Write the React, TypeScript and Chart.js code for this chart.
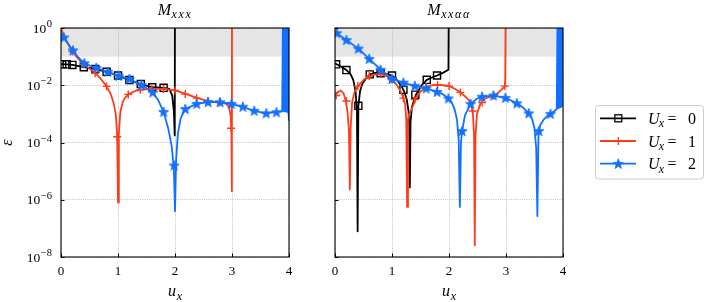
import React, { useEffect, useRef } from 'react';
import { Chart, registerables } from 'chart.js';

Chart.register(...registerables);

const W = 706;
const H = 302;
const FONT = '"Liberation Serif", "DejaVu Serif", serif';

const X_TICKS = [0, 1, 2, 3, 4];
const Y_TICK_EXPONENTS = [0, -2, -4, -6, -8];
const SHADE_LOW = 0.1;
const SHADE_HIGH = 1;
const SERIES_VALUES = ['0', '1', '2'];
const PANEL_SUBSCRIPTS = ['xxx', 'xxαα'];
const COLORS = ['#000000', '#ff3c1a', '#1170ff'];

// ---------- left panel (M_xxx): u_x and log10(ε) ----------
const leftU0LineU = [0, 0.1, 0.2, 0.4, 0.6, 0.8, 1.0, 1.2, 1.4, 1.6, 1.8, 1.9, 1.95, 1.98, 1.995, 2.0];
const leftU0LineLog = [-1.26, -1.27, -1.29, -1.37, -1.43, -1.53, -1.66, -1.82, -1.96, -2.07, -2.09, -2.13, -2.35, -2.9, -3.75, 2];
const leftU0MarkU = [0.02, 0.1, 0.2, 0.4, 0.6, 0.8, 1.0, 1.2, 1.4, 1.6, 1.8];
const leftU0MarkLog = [-1.27, -1.27, -1.29, -1.37, -1.43, -1.53, -1.66, -1.82, -1.96, -2.07, -2.09];

const leftU1LineU = [0, 0.05, 0.1, 0.2, 0.3, 0.4, 0.5, 0.6, 0.7, 0.8, 0.87, 0.92, 0.96, 0.985, 1.0, 1.015, 1.04, 1.08, 1.12, 1.18, 1.3, 1.4, 1.6, 1.8, 2.0, 2.2, 2.4, 2.6, 2.8, 2.9, 2.95, 2.975, 2.99, 2.997, 3.0];
const leftU1LineLog = [-0.02, -0.25, -0.47, -0.82, -1.07, -1.27, -1.42, -1.58, -1.78, -2.04, -2.3, -2.6, -3.0, -3.7, -6.1, -3.7, -2.95, -2.6, -2.45, -2.32, -2.2, -2.16, -2.12, -2.13, -2.18, -2.31, -2.45, -2.56, -2.6, -2.65, -2.78, -3.05, -3.6, -5.7, 2];
const leftU1MarkU = [0.2, 0.4, 0.6, 0.8, 0.985, 1.18, 1.39, 1.59, 1.8, 2.0, 2.18, 2.38, 2.58, 2.78, 2.985];
const leftU1MarkLog = [-0.82, -1.27, -1.58, -2.04, -3.8, -2.32, -2.16, -2.12, -2.13, -2.18, -2.31, -2.45, -2.56, -2.6, -3.5];

const leftU2LineU = [0, 0.05, 0.1, 0.2, 0.3, 0.4, 0.5, 0.6, 0.8, 1.0, 1.2, 1.4, 1.5, 1.6, 1.7, 1.8, 1.88, 1.94, 1.98, 2.0, 2.02, 2.05, 2.1, 2.18, 2.38, 2.58, 2.78, 2.98, 3.18, 3.38, 3.58, 3.78, 3.88, 3.9, 3.91, 3.92, 3.93, 3.94, 3.95, 3.96, 3.97, 3.98, 3.99, 4.0];
const leftU2LineLog = [-0.18, -0.33, -0.48, -0.77, -1.02, -1.21, -1.31, -1.38, -1.52, -1.66, -1.78, -1.99, -2.1, -2.24, -2.5, -2.93, -3.5, -4.1, -4.9, -6.4, -4.6, -3.7, -3.15, -2.83, -2.65, -2.59, -2.59, -2.65, -2.75, -2.89, -2.98, -2.94, -2.91, 2, -2.91, 2, -2.91, 2, -2.92, 2, -2.93, 2, -2.95, -3.24];
const leftU2MarkU = [0.05, 0.21, 0.41, 0.62, 0.82, 1.01, 1.2, 1.41, 1.61, 1.8, 1.985, 2.18, 2.38, 2.58, 2.79, 2.99, 3.19, 3.39, 3.6, 3.78];
const leftU2MarkLog = [-0.33, -0.78, -1.23, -1.39, -1.53, -1.67, -1.78, -1.99, -2.25, -2.93, -4.8, -2.83, -2.65, -2.59, -2.59, -2.65, -2.75, -2.89, -2.98, -2.94];

// ---------- right panel (M_xxαα): u_x and log10(ε) ----------
const rightU0LineU = [0, 0.05, 0.1, 0.2, 0.27, 0.32, 0.36, 0.385, 0.397, 0.41, 0.44, 0.48, 0.53, 0.61, 0.7, 0.8, 0.9, 1.0, 1.1, 1.18, 1.22, 1.26, 1.29, 1.305, 1.313, 1.325, 1.35, 1.42, 1.52, 1.61, 1.7, 1.79, 1.9, 1.99, 2.0];
const rightU0LineLog = [-1.23, -1.29, -1.34, -1.47, -1.6, -1.81, -2.2, -2.9, -7.1, -2.72, -2.2, -1.95, -1.8, -1.62, -1.57, -1.58, -1.6, -1.66, -1.85, -2.08, -2.25, -2.51, -2.9, -3.6, -5.57, -3.3, -2.75, -2.33, -2.0, -1.81, -1.73, -1.66, -1.56, -1.46, 2];
const rightU0MarkU = [0.02, 0.2, 0.41, 0.61, 0.8, 1.0, 1.2, 1.41, 1.61, 1.79];
const rightU0MarkLog = [-1.27, -1.47, -2.72, -1.62, -1.58, -1.66, -2.16, -2.33, -1.81, -1.66];

const rightU1LineU = [0, 0.05, 0.1, 0.15, 0.19, 0.22, 0.245, 0.26, 0.275, 0.3, 0.34, 0.4, 0.5, 0.6, 0.7, 0.8, 0.9, 1.0, 1.08, 1.14, 1.19, 1.23, 1.25, 1.265, 1.28, 1.3, 1.34, 1.43, 1.5, 1.61, 1.7, 1.81, 1.9, 2.01, 2.1, 2.19, 2.3, 2.38, 2.42, 2.44, 2.452, 2.465, 2.49, 2.55, 2.61, 2.78, 2.87, 2.95, 2.985, 3.0];
const rightU1LineLog = [-2.38, -2.24, -2.18, -2.28, -2.55, -2.95, -3.6, -5.64, -3.5, -2.6, -2.25, -2.03, -1.82, -1.68, -1.62, -1.61, -1.68, -1.81, -1.98, -2.17, -2.4, -2.65, -3.2, -6.25, -3.2, -3.0, -2.85, -2.42, -2.22, -2.05, -2.0, -1.99, -2.0, -2.03, -2.12, -2.23, -2.42, -2.6, -3.0, -3.8, -7.59, -3.8, -3.0, -2.65, -2.48, -2.36, -2.25, -2.1, -2.02, 2];
const rightU1MarkU = [0.02, 0.2, 0.4, 0.6, 0.8, 1.0, 1.2, 1.4, 1.6, 1.8, 2.0, 2.2, 2.415, 2.58, 2.78, 2.98];
const rightU1MarkLog = [-2.36, -2.55, -2.03, -1.68, -1.61, -1.81, -2.45, -2.5, -2.06, -1.99, -2.03, -2.25, -2.9, -2.6, -2.36, -2.03];

const rightU2LineU = [0, 0.03, 0.2, 0.41, 0.6, 0.8, 1.0, 1.2, 1.4, 1.6, 1.8, 1.9, 2.0, 2.06, 2.1, 2.14, 2.17, 2.19, 2.21, 2.23, 2.28, 2.38, 2.48, 2.58, 2.78, 2.99, 3.19, 3.3, 3.4, 3.46, 3.5, 3.53, 3.55, 3.57, 3.6, 3.66, 3.72, 3.78, 3.85, 3.89, 3.91, 3.92, 3.93, 3.94, 3.95, 3.96, 3.97, 3.98, 3.99, 4.0];
const rightU2LineLog = [-0.14, -0.18, -0.42, -0.72, -1.08, -1.45, -1.77, -1.92, -2.02, -2.12, -2.23, -2.32, -2.47, -2.65, -2.85, -3.2, -3.9, -6.25, -4.0, -3.6, -3.05, -2.65, -2.48, -2.4, -2.36, -2.44, -2.63, -2.78, -2.98, -3.2, -3.5, -4.2, -6.57, -3.7, -3.4, -3.2, -3.08, -3.0, -2.9, -2.83, 2, -2.8, 2, -2.78, 2, -2.76, 2, -2.75, 2, 2];
const rightU2MarkU = [0.03, 0.2, 0.41, 0.6, 0.8, 1.0, 1.2, 1.4, 1.6, 1.79, 1.99, 2.23, 2.38, 2.58, 2.78, 2.99, 3.19, 3.4, 3.575, 3.78];
const rightU2MarkLog = [-0.18, -0.42, -0.72, -1.08, -1.46, -1.78, -1.91, -2.02, -2.11, -2.23, -2.46, -3.6, -2.65, -2.4, -2.36, -2.44, -2.63, -2.98, -3.6, -3.0];

type Series = { lineU: number[]; lineLog: number[]; markU: number[]; markLog: number[] };

const PANELS = [
  {
    left: 61,
    right: 289,
    sub: PANEL_SUBSCRIPTS[0],
    yLabels: true,
    legend: false,
    series: [
      { lineU: leftU0LineU, lineLog: leftU0LineLog, markU: leftU0MarkU, markLog: leftU0MarkLog },
      { lineU: leftU1LineU, lineLog: leftU1LineLog, markU: leftU1MarkU, markLog: leftU1MarkLog },
      { lineU: leftU2LineU, lineLog: leftU2LineLog, markU: leftU2MarkU, markLog: leftU2MarkLog },
    ] as Series[],
  },
  {
    left: 335,
    right: 563,
    sub: PANEL_SUBSCRIPTS[1],
    yLabels: false,
    legend: true,
    series: [
      { lineU: rightU0LineU, lineLog: rightU0LineLog, markU: rightU0MarkU, markLog: rightU0MarkLog },
      { lineU: rightU1LineU, lineLog: rightU1LineLog, markU: rightU1MarkU, markLog: rightU1MarkLog },
      { lineU: rightU2LineU, lineLog: rightU2LineLog, markU: rightU2MarkU, markLog: rightU2MarkLog },
    ] as Series[],
  },
];

const PLOT_TOP = 28;
const PLOT_BOTTOM = 257;

function toPoints(us: number[], logs: number[]) {
  return us.map((u, i) => ({ x: u, y: Math.pow(10, logs[i]) }));
}

function starPath(g: CanvasRenderingContext2D, cx: number, cy: number, R: number) {
  const r = R * 0.4;
  g.beginPath();
  for (let k = 0; k < 10; k++) {
    const rad = k % 2 === 0 ? R : r;
    const a = -Math.PI / 2 + (k * Math.PI) / 5;
    const px = cx + rad * Math.cos(a);
    const py = cy + rad * Math.sin(a);
    if (k === 0) g.moveTo(px, py);
    else g.lineTo(px, py);
  }
  g.closePath();
}

function makeStar(color: string, R: number) {
  const c = document.createElement('canvas');
  const s = Math.ceil(2 * R + 3);
  c.width = s;
  c.height = s;
  const g = c.getContext('2d')!;
  starPath(g, s / 2, s / 2 + 0.4, R);
  g.fillStyle = color;
  g.fill();
  g.strokeStyle = color;
  g.lineWidth = 0.9;
  g.stroke();
  return c;
}

type Run = { t: string; font: string; dy?: number; dx?: number };

function runsWidth(ctx: CanvasRenderingContext2D, runs: Run[]) {
  let w = 0;
  for (const r of runs) {
    ctx.font = r.font;
    w += ctx.measureText(r.t).width + (r.dx || 0);
  }
  return w;
}

function drawRuns(ctx: CanvasRenderingContext2D, runs: Run[], x: number, y: number, align: 'left' | 'center' | 'right') {
  const w = runsWidth(ctx, runs);
  let cx = align === 'left' ? x : align === 'center' ? x - w / 2 : x - w;
  ctx.textAlign = 'left';
  ctx.textBaseline = 'alphabetic';
  for (const r of runs) {
    ctx.font = r.font;
    ctx.fillText(r.t, cx, y + (r.dy || 0));
    cx += ctx.measureText(r.t).width + (r.dx || 0);
  }
}

function drawMarker(ctx: CanvasRenderingContext2D, idx: number, x: number, y: number) {
  const color = COLORS[idx];
  ctx.save();
  ctx.strokeStyle = color;
  ctx.fillStyle = color;
  ctx.lineWidth = 1.3;
  if (idx === 0) {
    ctx.strokeRect(x - 3.5, y - 3.5, 7, 7);
  } else if (idx === 1) {
    ctx.beginPath();
    ctx.moveTo(x - 4, y);
    ctx.lineTo(x + 4, y);
    ctx.moveTo(x, y - 4);
    ctx.lineTo(x, y + 4);
    ctx.stroke();
  } else {
    starPath(ctx, x, y + 0.4, 5.3);
    ctx.lineWidth = 0.9;
    ctx.fill();
    ctx.stroke();
  }
  ctx.restore();
}

function makePanel(canvas: HTMLCanvasElement, panel: (typeof PANELS)[number]) {
  const star = makeStar(COLORS[2], 5.3);
  const datasets: any[] = [];
  for (let s = 2; s >= 0; s--) {
    const ser = panel.series[s];
    const color = COLORS[s];
    datasets.push({
      data: toPoints(ser.markU, ser.markLog),
      showLine: false,
      pointStyle: s === 0 ? 'rect' : s === 1 ? 'cross' : star,
      pointRadius: s === 0 ? 5 : s === 1 ? 4 : 5,
      pointBorderWidth: 1.4,
      pointBorderColor: color,
      pointBackgroundColor: s === 0 ? 'rgba(0,0,0,0)' : color,
      borderColor: color,
      backgroundColor: s === 0 ? 'rgba(0,0,0,0)' : color,
    });
    datasets.push({
      data: toPoints(ser.lineU, ser.lineLog),
      borderColor: color,
      backgroundColor: color,
      borderWidth: 1.8,
      pointRadius: 0,
      tension: 0,
      fill: false,
      borderJoinStyle: 'round',
    });
  }

  const decor = {
    id: 'panelDecor',
    beforeDraw(chart: any) {
      const { ctx, chartArea: a } = chart;
      const y = chart.scales.y;
      const yTop = y.getPixelForValue(SHADE_HIGH);
      const yBot = y.getPixelForValue(SHADE_LOW);
      ctx.save();
      ctx.fillStyle = '#e5e5e5';
      ctx.fillRect(a.left, yTop, a.right - a.left, yBot - yTop);
      ctx.restore();
    },
    afterDatasetsDraw(chart: any) {
      const { ctx, chartArea: a } = chart;
      const xs = chart.scales.x;
      const ys = chart.scales.y;
      ctx.save();
      ctx.strokeStyle = '#000';
      ctx.lineWidth = 1.1;
      ctx.strokeRect(a.left, a.top, a.right - a.left, a.bottom - a.top);
      ctx.lineWidth = 1;
      ctx.beginPath();
      for (const e of Y_TICK_EXPONENTS) {
        const py = Math.round(ys.getPixelForValue(Math.pow(10, e))) + 0.5;
        ctx.moveTo(a.left, py);
        ctx.lineTo(a.left + 3.5, py);
      }
      for (const v of X_TICKS) {
        const px = Math.round(xs.getPixelForValue(v)) + 0.5;
        ctx.moveTo(px, a.bottom);
        ctx.lineTo(px, a.bottom - 3.5);
      }
      ctx.stroke();
      ctx.restore();
    },
    afterDraw(chart: any) {
      const { ctx, chartArea: a } = chart;
      const xs = chart.scales.x;
      const ys = chart.scales.y;
      const cx = (a.left + a.right) / 2;
      ctx.save();
      ctx.fillStyle = '#000';
      // title
      const titleRuns: Run[] = [{ t: 'M', font: `italic 16px ${FONT}`, dx: 0.6 }];
      for (const ch of panel.sub) titleRuns.push({ t: ch, font: `italic 12px ${FONT}`, dy: 2.5, dx: 1.6 });
      drawRuns(ctx, titleRuns, cx, 15, 'center');
      // x tick labels
      ctx.font = `13px ${FONT}`;
      ctx.textAlign = 'center';
      ctx.textBaseline = 'alphabetic';
      for (const v of X_TICKS) ctx.fillText(String(v), xs.getPixelForValue(v), 275);
      // x label
      drawRuns(
        ctx,
        [
          { t: 'u', font: `italic 16px ${FONT}`, dx: 0.6 },
          { t: 'x', font: `italic 12px ${FONT}`, dy: 3.5 },
        ],
        cx,
        296,
        'center'
      );
      if (panel.yLabels) {
        for (const e of Y_TICK_EXPONENTS) {
          const py = ys.getPixelForValue(Math.pow(10, e));
          const sup = e === 0 ? '0' : '\u2212' + String(-e);
          drawRuns(
            ctx,
            [
              { t: '10', font: `13.5px ${FONT}`, dx: 0.6 },
              { t: sup, font: `10.5px ${FONT}`, dy: -5.5 },
            ],
            52,
            py + 4.7,
            'right'
          );
        }
        ctx.save();
        ctx.translate(8, (a.top + a.bottom) / 2);
        ctx.rotate(-Math.PI / 2);
        ctx.font = `italic 16px ${FONT}`;
        ctx.textAlign = 'center';
        ctx.textBaseline = 'middle';
        ctx.fillText('\u03B5', 0, 0);
        ctx.restore();
      }
      if (panel.legend) {
        ctx.save();
        ctx.beginPath();
        (ctx as any).roundRect(595.5, 105.5, 108, 73.5, 3);
        ctx.fillStyle = 'rgba(255,255,255,0.85)';
        ctx.fill();
        ctx.strokeStyle = '#cccccc';
        ctx.lineWidth = 1;
        ctx.stroke();
        ctx.restore();
        const rows = [118.3, 141, 163.7];
        for (let i = 0; i < 3; i++) {
          const ry = rows[i];
          ctx.save();
          ctx.strokeStyle = COLORS[i];
          ctx.lineWidth = 1.8;
          ctx.beginPath();
          ctx.moveTo(600, ry);
          ctx.lineTo(636, ry);
          ctx.stroke();
          ctx.restore();
          drawMarker(ctx, i, 618.3, ry);
          ctx.fillStyle = '#000';
          drawRuns(
            ctx,
            [
              { t: 'U', font: `italic 16px ${FONT}`, dx: -0.8 },
              { t: 'x', font: `italic 12px ${FONT}`, dy: 3.5 },
            ],
            648,
            ry + 5.5,
            'left'
          );
          ctx.font = `16px ${FONT}`;
          ctx.textAlign = 'center';
          ctx.fillText('=', 672, ry + 5.5);
          ctx.textAlign = 'left';
          ctx.fillText(SERIES_VALUES[i], 688, ry + 5.5);
        }
      }
      ctx.restore();
    },
  };

  return new Chart(canvas, {
    type: 'line',
    data: { datasets },
    options: {
      animation: false,
      responsive: false,
      maintainAspectRatio: false,
      events: [],
      layout: {
        padding: { left: panel.left, right: W - panel.right, top: PLOT_TOP, bottom: H - PLOT_BOTTOM },
      },
      plugins: { legend: { display: false }, tooltip: { enabled: false }, title: { display: false } },
      scales: {
        x: {
          type: 'linear',
          min: 0,
          max: 4,
          ticks: { display: false, stepSize: 1 },
          grid: { color: '#b0b0b0', lineWidth: 0.8, drawTicks: false },
          border: { display: false, dash: [1, 1.2] },
          afterFit: (s: any) => {
            s.height = 0;
          },
        },
        y: {
          type: 'logarithmic',
          min: 1e-8,
          max: 1,
          ticks: { display: false },
          grid: { color: '#b0b0b0', lineWidth: 0.8, drawTicks: false },
          border: { display: false, dash: [1, 1.2] },
          afterBuildTicks: (s: any) => {
            s.ticks = Y_TICK_EXPONENTS.map((e) => ({ value: Math.pow(10, e) }));
          },
          afterFit: (s: any) => {
            s.width = 0;
          },
        },
      },
    } as any,
    plugins: [decor],
  });
}

export default function App() {
  const leftRef = useRef<HTMLCanvasElement>(null);
  const rightRef = useRef<HTMLCanvasElement>(null);
  useEffect(() => {
    const charts = [makePanel(leftRef.current!, PANELS[0]), makePanel(rightRef.current!, PANELS[1])];
    return () => charts.forEach((c) => c.destroy());
  }, []);
  return (
    <div style={{ position: 'fixed', left: 0, top: 0, width: W, height: H, background: '#fff', overflow: 'hidden' }}>
      <canvas ref={leftRef} width={W} height={H} style={{ position: 'absolute', left: 0, top: 0 }} />
      <canvas ref={rightRef} width={W} height={H} style={{ position: 'absolute', left: 0, top: 0 }} />
    </div>
  );
}
